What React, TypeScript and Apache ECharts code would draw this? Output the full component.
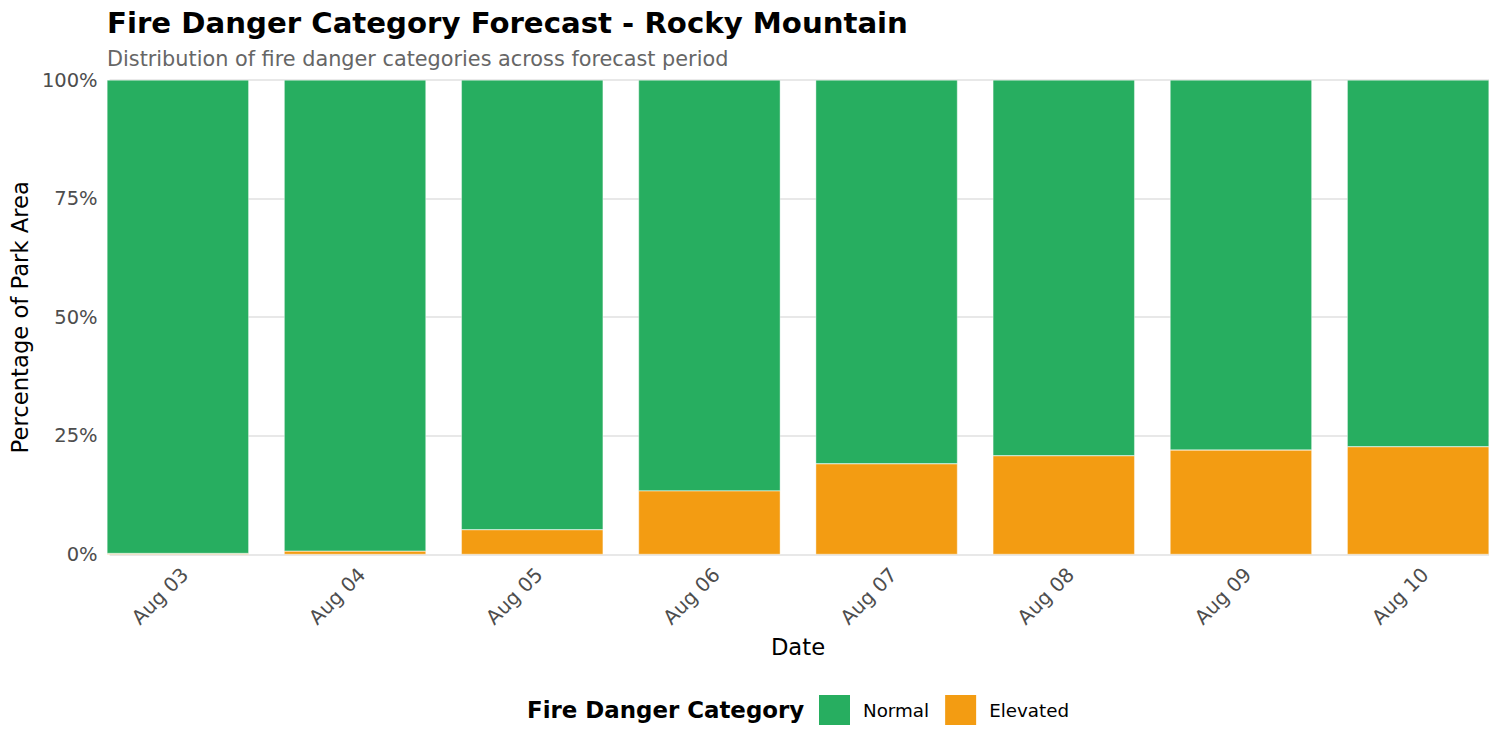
import React, { useEffect, useRef } from "react";
import * as echarts from "echarts";

const categories = ["Aug 03", "Aug 04", "Aug 05", "Aug 06", "Aug 07", "Aug 08", "Aug 09", "Aug 10"];
const elevated = [0.2, 0.7, 5.2, 13.4, 19.1, 20.8, 22.0, 22.7];
const normal = [99.8, 99.3, 94.8, 86.6, 80.9, 79.2, 78.0, 77.3];
const yTicks = [0, 25, 50, 75, 100];

const FONT = "DejaVu Sans";
const GREEN = "#27ae60";
const ORANGE = "#f39c12";

export default function App() {
  const ref = useRef<HTMLDivElement>(null);
  useEffect(() => {
    if (!ref.current) return;
    const chart = echarts.init(ref.current, null, { renderer: "svg" });
    const panelLeft = 107;
    const panelRight = 1489;
    const band = (panelRight - panelLeft) / (categories.length - 0.2);
    const top = 80;
    const height = 474.4;
    chart.setOption({
      animation: false,
      backgroundColor: "#ffffff",
      textStyle: { fontFamily: FONT },
      title: {
        text: "Fire Danger Category Forecast - Rocky Mountain",
        subtext: "Distribution of fire danger categories across forecast period",
        left: panelLeft - 5,
        top: 3,
        itemGap: 11,
        textStyle: { fontFamily: FONT, fontSize: 29.2, fontWeight: "bold", color: "#000000" },
        subtextStyle: { fontFamily: FONT, fontSize: 20.8, color: "#666666" },
      },
      legend: {
        data: ["Normal", "Elevated"],
        left: 817,
        top: 693,
        padding: 0,
        itemWidth: 33,
        itemHeight: 32,
        itemGap: 14,
        icon: "rect",
        textStyle: { fontFamily: FONT, fontSize: 18.3, color: "#000000", padding: [0, 0, 0, 7] },
      },
      graphic: [
        {
          type: "text",
          x: 527,
          y: 710,
          style: {
            text: "Fire Danger Category",
            font: `bold 22.9px "${FONT}"`,
            fill: "#000000",
            verticalAlign: "middle",
          },
        },
      ],
      grid: [
        {
          left: panelLeft - 0.1 * band,
          top,
          width: band * categories.length,
          height,
        },
        {
          left: panelLeft,
          top,
          width: panelRight - panelLeft,
          height,
        },
      ],
      xAxis: [
        {
          type: "category",
          gridIndex: 0,
          data: categories,
          boundaryGap: true,
          axisLine: { show: false },
          axisTick: { show: false },
          splitLine: { show: false },
          axisLabel: {
            rotate: 45,
            margin: 10,
            fontFamily: FONT,
            fontSize: 19.8,
            color: "#4d4d4d",
            interval: 0,
            align: "right",
            verticalAlign: "top",
          },
          name: "Date",
          nameLocation: "middle",
          nameGap: 79,
          nameTextStyle: { fontFamily: FONT, fontSize: 22.7, color: "#000000" },
        },
        { type: "value", gridIndex: 1, show: false, min: 0, max: 1 },
      ],
      yAxis: [
        { type: "value", gridIndex: 0, min: 0, max: 100, show: false },
        {
          type: "value",
          gridIndex: 1,
          min: yTicks[0],
          max: yTicks[yTicks.length - 1],
          interval: 25,
          axisLine: { show: false },
          axisTick: { show: false },
          splitLine: { show: true, lineStyle: { color: "#e0e0e0", width: 1.6 } },
          axisLabel: {
            margin: 12,
            fontFamily: FONT,
            fontSize: 19.5,
            color: "#4d4d4d",
            formatter: "{value}%",
          },
          name: "Percentage of Park Area",
          nameLocation: "middle",
          nameGap: 76,
          nameTextStyle: { fontFamily: FONT, fontSize: 22.7, color: "#000000" },
        },
      ],
      series: [
        {
          name: "Elevated",
          type: "bar",
          stack: "total",
          xAxisIndex: 0,
          yAxisIndex: 0,
          data: elevated,
          barWidth: band * 0.8,
          itemStyle: { color: ORANGE, borderColor: "#ffffff", borderWidth: 0.4 },
        },
        {
          name: "Normal",
          type: "bar",
          stack: "total",
          xAxisIndex: 0,
          yAxisIndex: 0,
          data: normal,
          barWidth: band * 0.8,
          itemStyle: { color: GREEN, borderColor: "#ffffff", borderWidth: 0.4 },
        },
      ],
    });
    return () => chart.dispose();
  }, []);
  return (
    <div style={{ position: "fixed", left: 0, top: 0, width: 1500, height: 750, overflow: "hidden" }}>
      <div ref={ref} style={{ position: "absolute", left: 0, top: 0, width: 1530, height: 750 }} />
    </div>
  );
}
